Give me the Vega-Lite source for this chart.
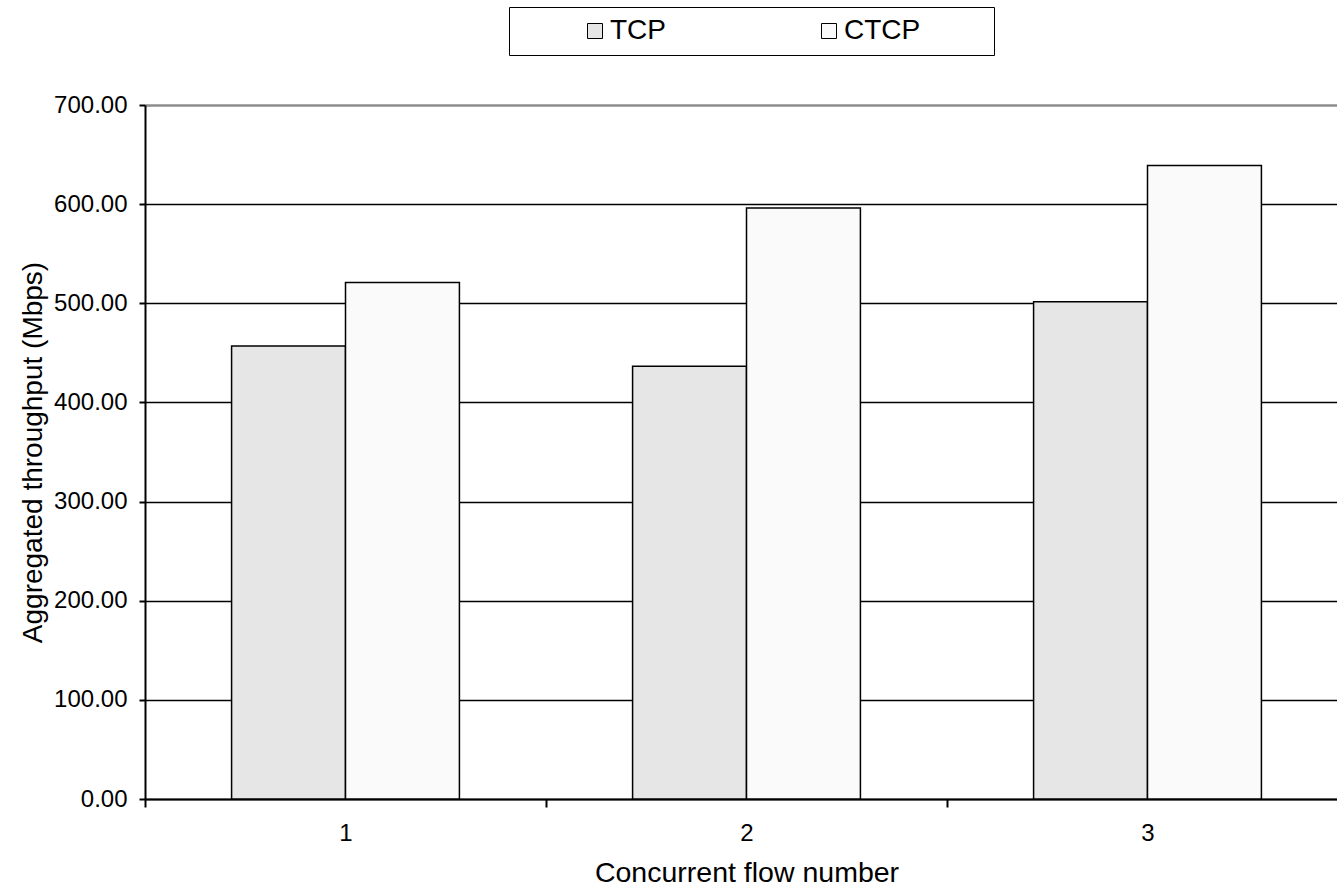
{
  "$schema": "https://vega.github.io/schema/vega-lite/v6.json",
  "width": 1192,
  "height": 694,
  "autosize": {"type": "none"},
  "padding": {"left": 145, "top": 105, "right": 0, "bottom": 88},
  "config": {"font": "Liberation Sans", "view": {"stroke": null}},
  "data": {
    "values": [
      {"flow": "1", "protocol": "TCP", "value": 457},
      {"flow": "1", "protocol": "CTCP", "value": 521},
      {"flow": "2", "protocol": "TCP", "value": 436.5},
      {"flow": "2", "protocol": "CTCP", "value": 596},
      {"flow": "3", "protocol": "TCP", "value": 501.5},
      {"flow": "3", "protocol": "CTCP", "value": 639}
    ]
  },
  "mark": {"type": "bar", "stroke": "black", "strokeWidth": 1.5},
  "encoding": {
    "x": {
      "field": "flow",
      "type": "ordinal",
      "scale": {"range": [0, 1203], "paddingInner": 0, "paddingOuter": 0},
      "axis": {
        "title": "Concurrent flow number",
        "labelAngle": 0,
        "ticks": true,
        "tickBand": "extent",
        "tickSize": 8,
        "tickWidth": 2,
        "tickColor": "black",
        "domainColor": "black",
        "domainWidth": 2,
        "labelFontSize": 24,
        "labelColor": "black",
        "labelPadding": 14,
        "titleFontSize": 28.5,
        "titleFontWeight": "normal",
        "titleColor": "black",
        "titlePadding": 13,
        "grid": false
      }
    },
    "xOffset": {
      "field": "protocol",
      "type": "nominal",
      "sort": ["TCP", "CTCP"],
      "scale": {"paddingInner": 0, "paddingOuter": 0.76}
    },
    "y": {
      "field": "value",
      "type": "quantitative",
      "scale": {"domain": [0, 700]},
      "axis": {
        "title": "Aggregated throughput (Mbps)",
        "values": [0, 100, 200, 300, 400, 500, 600, 700],
        "format": ".2f",
        "labelFontSize": 24,
        "labelColor": "black",
        "labelPadding": 12,
        "tickSize": 6,
        "tickWidth": 2,
        "tickColor": "black",
        "domainColor": "black",
        "domainWidth": 2,
        "grid": true,
        "gridColor": {"condition": {"test": "datum.value === 700", "value": "#8c8c8c"}, "value": "black"},
        "gridWidth": {"condition": {"test": "datum.value === 700", "value": 2.5}, "value": 1.5},
        "gridOpacity": 1,
        "titleFontSize": 28,
        "titleFontWeight": "normal",
        "titleColor": "black",
        "titlePadding": 6
      }
    },
    "color": {
      "field": "protocol",
      "type": "nominal",
      "sort": ["TCP", "CTCP"],
      "scale": {"domain": ["TCP", "CTCP"], "range": ["#e6e6e6", "#fafafa"]},
      "legend": {
        "orient": "none",
        "legendX": 364,
        "legendY": -98,
        "direction": "horizontal",
        "title": null,
        "strokeColor": "black",
        "padding": 10,
        "symbolType": "square",
        "symbolSize": 225,
        "symbolStrokeColor": "black",
        "symbolStrokeWidth": 1,
        "symbolOpacity": 1,
        "labelFontSize": 28,
        "labelColor": "black",
        "labelOffset": 1,
        "labelLimit": 400,
        "labelExpr": "datum.label == 'CTCP' ? 'CTCP\u2800\u2800\u2800' : datum.label",
        "columnPadding": 87,
        "symbolOffset": 62
      }
    }
  }
}
